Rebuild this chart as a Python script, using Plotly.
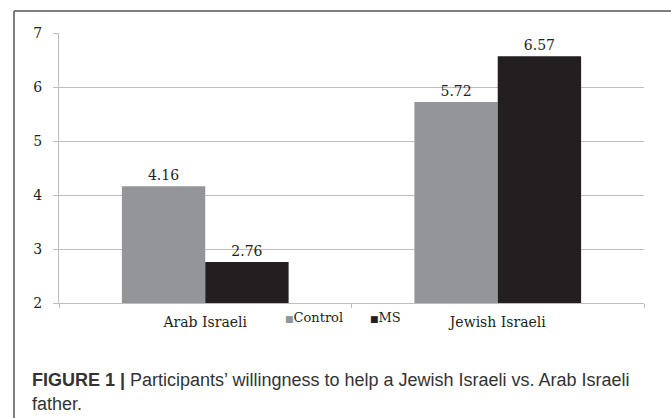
import plotly.graph_objects as go

# ---- data ----
categories = ["Arab Israeli", "Jewish Israeli"]
series_names = ["Control", "MS"]
control_values = [4.16, 5.72]
ms_values = [2.76, 6.57]
y_ticks = [2, 3, 4, 5, 6, 7]
caption_line1 = "<b>FIGURE 1 |</b> Participants\u2019 willingness to help a Jewish Israeli vs. Arab Israeli"
caption_line2 = "father."

colors = {"Control": "#939598", "MS": "#231f20"}
serif = "DejaVu Serif"
text_col = "#231f20"

W, H = 671, 418
L, R, T, B = 59, 27, 33, 115
pw, ph = W - L - R, H - T - B


def px_x(x):
    return (x - L) / pw


def px_y(y):
    return (H - B - y) / ph


fig = go.Figure()
for name, vals in zip(series_names, [control_values, ms_values]):
    fig.add_trace(go.Bar(
        x=categories, y=vals, name=name,
        marker=dict(color=colors[name], line=dict(width=0)),
        text=[f"{v:.2f}" for v in vals],
        textposition="outside",
        textfont=dict(family=serif, size=14, color=text_col),
        cliponaxis=False,
        showlegend=False,
    ))

fig.update_layout(
    width=W, height=H,
    margin=dict(l=L, r=R, t=T, b=B),
    paper_bgcolor="white", plot_bgcolor="white",
    barmode="group", bargap=0.43, bargroupgap=0,
    font=dict(family=serif, size=14, color=text_col),
)
fig.update_yaxes(
    range=[2, 7], tickvals=y_ticks, ticktext=[str(t) for t in y_ticks],
    showgrid=True, gridcolor="#bdbdbd", gridwidth=1,
    showline=True, linecolor="#bdbdbd", linewidth=1,
    ticks="outside", ticklen=5, tickcolor="#bdbdbd",
    ticklabelstandoff=8,
    tickfont=dict(family=serif, size=14, color=text_col),
    zeroline=False,
)
fig.update_xaxes(
    showline=True, linecolor="#bdbdbd", linewidth=1,
    ticks="outside", ticklen=4, tickcolor="#bdbdbd", tickson="boundaries",
    ticklabelstandoff=6,
    tickfont=dict(family=serif, size=14, color=text_col),
)

# manual legend (Word-style small squares)
legend_pos = {"Control": 313.5, "MS": 385}
for name in series_names:
    fig.add_annotation(
        xref="paper", yref="paper", x=px_x(legend_pos[name]), y=px_y(317),
        xanchor="center", yanchor="middle", showarrow=False,
        text=f"<span style='color:{colors[name]};font-size:9px'>\u25A0</span>{name}",
        font=dict(family=serif, size=13, color=text_col),
    )

# caption
cap_font = dict(family="Liberation Sans", size=18, color="#333333")
fig.add_annotation(xref="paper", yref="paper", x=px_x(30), y=px_y(380),
                   xanchor="left", yanchor="middle", showarrow=False,
                   text=caption_line1, font=cap_font)
fig.add_annotation(xref="paper", yref="paper", x=px_x(30), y=px_y(404),
                   xanchor="left", yanchor="middle", showarrow=False,
                   text=caption_line2, font=cap_font)

# frame (top and left edges visible)
fig.add_shape(type="line", xref="paper", yref="paper",
              x0=px_x(14), y0=px_y(11), x1=px_x(W + 2), y1=px_y(11),
              line=dict(color="#555555", width=1.5))
fig.add_shape(type="line", xref="paper", yref="paper",
              x0=px_x(14), y0=px_y(11), x1=px_x(14), y1=px_y(H + 2),
              line=dict(color="#555555", width=1.5))

fig.write_html("out.html")
